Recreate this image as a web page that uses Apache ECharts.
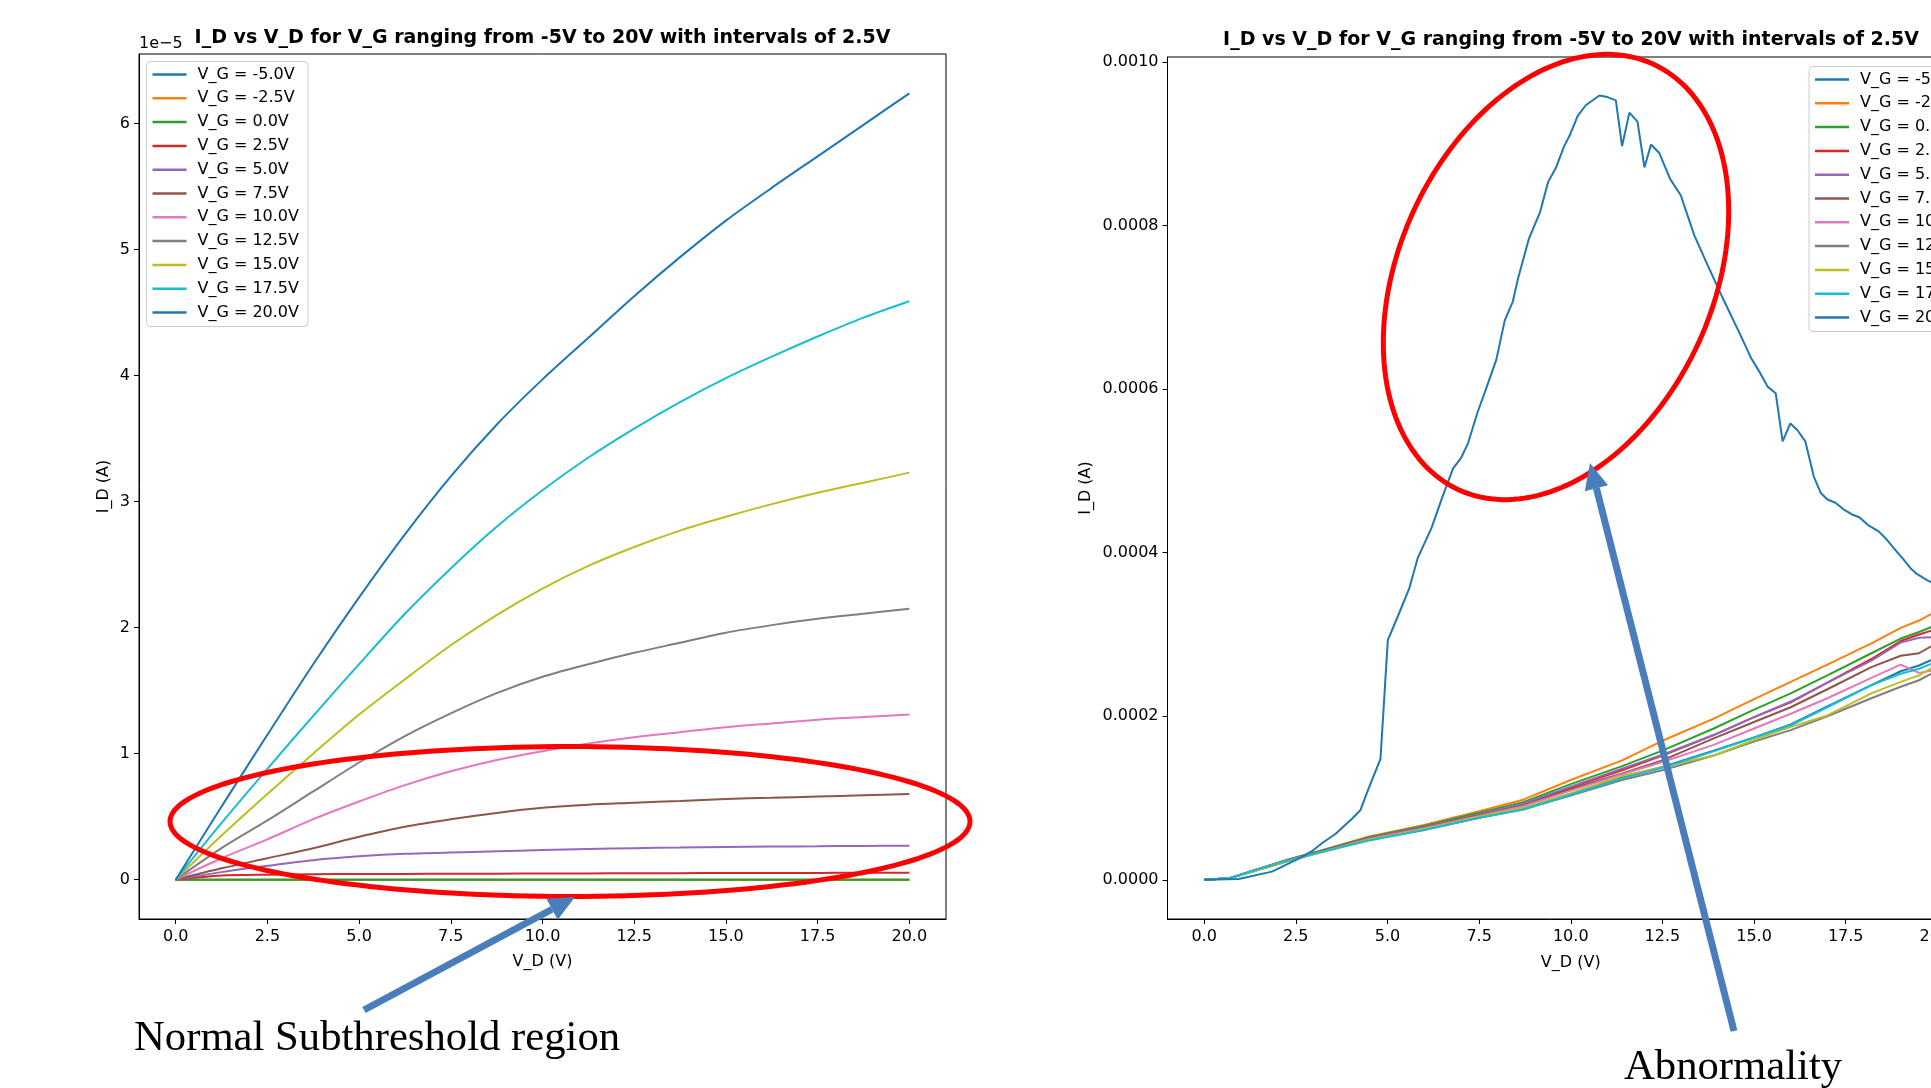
<!DOCTYPE html>
<html lang="en">
<head>
<meta charset="UTF-8">
<title>I_D vs V_D</title>
<script src="https://cdn.jsdelivr.net/npm/echarts@6/dist/echarts.min.js"></script>
<style>
  html, body { margin: 0; padding: 0; background: #fff; }
  #main { width: 1931px; height: 1088px; }
</style>
</head>
<body>
<div id="main"></div>
<script>
  // legend names and matplotlib tab10 cycle
  var gateLabels = ['V_G = -5.0V', 'V_G = -2.5V', 'V_G = 0.0V', 'V_G = 2.5V', 'V_G = 5.0V', 'V_G = 7.5V',
    'V_G = 10.0V', 'V_G = 12.5V', 'V_G = 15.0V', 'V_G = 17.5V', 'V_G = 20.0V'];
  var lineColors = ['#1f77b4', '#ff7f0e', '#2ca02c', '#d62728', '#9467bd', '#8c564b',
    '#e377c2', '#7f7f7f', '#bcbd22', '#17becf', '#1f77b4'];

  var vdTicks = [0, 2.5, 5, 7.5, 10, 12.5, 15, 17.5, 20];
  var leftIdTicks = [0, 1, 2, 3, 4, 5, 6];
  var rightIdTicks = [0, 0.0002, 0.0004, 0.0006, 0.0008, 0.0010];

  // left panel, I_D in units of 1e-5 A, read every 1.25 V
  var leftVD = [0, 1.25, 2.5, 3.75, 5, 6.25, 7.5, 8.75, 10, 11.25, 12.5, 13.75, 15, 16.25, 17.5, 18.75, 20];
  var leftM50 = [0, 0, 0, 0, 0, 0, 0, 0, 0, 0, 0, 0, 0, 0, 0, 0, 0];
  var leftM25 = [0, 0, 0, 0, 0, 0, 0, 0, 0, 0, 0, 0, 0, 0, 0, 0, 0];
  var left00 = [0, 0, 0, 0, 0, 0, 0, 0, 0, 0, 0, 0, 0, 0, 0, 0, 0];
  var left25 = [0, 0.033, 0.04, 0.043, 0.045, 0.046, 0.047, 0.048, 0.049, 0.05, 0.051, 0.052, 0.053, 0.0535, 0.054, 0.0545, 0.055];
  var left50 = [0, 0.06, 0.11, 0.155, 0.185, 0.205, 0.215, 0.225, 0.235, 0.243, 0.25, 0.255, 0.26, 0.263, 0.265, 0.268, 0.27];
  var left75 = [0, 0.09, 0.17, 0.25, 0.34, 0.42, 0.48, 0.53, 0.57, 0.595, 0.61, 0.625, 0.64, 0.65, 0.66, 0.67, 0.68];
  var left100 = [0, 0.17, 0.32, 0.48, 0.62, 0.75, 0.86, 0.95, 1.02, 1.08, 1.13, 1.17, 1.21, 1.24, 1.27, 1.29, 1.31];
  var left125 = [0, 0.25, 0.47, 0.70, 0.93, 1.14, 1.32, 1.48, 1.61, 1.71, 1.80, 1.88, 1.96, 2.02, 2.07, 2.11, 2.15];
  var left150 = [0, 0.35, 0.68, 1.00, 1.31, 1.59, 1.86, 2.10, 2.31, 2.49, 2.64, 2.77, 2.88, 2.98, 3.07, 3.15, 3.23];
  var left175 = [0, 0.45, 0.88, 1.30, 1.71, 2.11, 2.47, 2.80, 3.09, 3.35, 3.58, 3.79, 3.98, 4.15, 4.31, 4.46, 4.59];
  var left200 = [0, 0.58, 1.15, 1.71, 2.24, 2.74, 3.20, 3.61, 3.97, 4.30, 4.63, 4.94, 5.23, 5.49, 5.74, 5.99, 6.24];

  // right panel, I_D in units of 1e-4 A
  var rightVD = [0, 0.7, 1.4, 2.3, 3.2, 4.5, 6, 7.5, 8.7, 10, 11.4, 12.5, 13.9, 15, 16, 17, 18.2, 19, 19.5, 20];
  var rightM50 = [0, 0.02, 0.12, 0.24, 0.35, 0.49, 0.62, 0.76, 0.87, 1.05, 1.25, 1.38, 1.58, 1.74, 1.90, 2.12, 2.38, 2.55, 2.62, 2.72];
  var rightM25 = [0, 0.02, 0.12, 0.25, 0.36, 0.53, 0.67, 0.84, 0.98, 1.22, 1.46, 1.70, 1.97, 2.21, 2.42, 2.63, 2.89, 3.08, 3.17, 3.29];
  var right00 = [0, 0.02, 0.12, 0.25, 0.36, 0.52, 0.66, 0.82, 0.95, 1.17, 1.39, 1.58, 1.85, 2.08, 2.28, 2.50, 2.77, 2.95, 3.03, 3.12];
  var right25 = [0, 0.02, 0.12, 0.24, 0.35, 0.51, 0.64, 0.79, 0.91, 1.13, 1.34, 1.52, 1.77, 1.99, 2.17, 2.41, 2.70, 2.92, 3.00, 3.07];
  var right50 = [0, 0.02, 0.12, 0.24, 0.35, 0.51, 0.65, 0.80, 0.93, 1.14, 1.36, 1.53, 1.77, 1.99, 2.18, 2.41, 2.68, 2.90, 2.96, 2.97];
  var right75 = [0, 0.02, 0.12, 0.24, 0.35, 0.50, 0.64, 0.79, 0.91, 1.11, 1.30, 1.46, 1.73, 1.93, 2.11, 2.33, 2.60, 2.74, 2.77, 2.90];
  var right100 = [0, 0.02, 0.12, 0.24, 0.34, 0.50, 0.63, 0.78, 0.90, 1.09, 1.29, 1.44, 1.65, 1.85, 2.03, 2.22, 2.47, 2.63, 2.53, 2.57];
  var right125 = [0, 0.02, 0.11, 0.23, 0.34, 0.49, 0.61, 0.76, 0.86, 1.03, 1.22, 1.34, 1.52, 1.69, 1.83, 2.00, 2.22, 2.36, 2.44, 2.56];
  var right150 = [0, 0.02, 0.11, 0.23, 0.34, 0.49, 0.62, 0.77, 0.88, 1.06, 1.27, 1.38, 1.52, 1.71, 1.87, 2.01, 2.28, 2.42, 2.50, 2.63];
  var right175 = [0, 0.02, 0.12, 0.24, 0.34, 0.48, 0.61, 0.76, 0.86, 1.04, 1.24, 1.37, 1.57, 1.74, 1.89, 2.11, 2.38, 2.52, 2.58, 2.67];
  // the abnormal curve has its own sampling
  var peakVD = [0, 0.94, 1.85, 2.58, 2.94, 3.22, 3.58, 4.04, 4.26, 4.49, 4.81, 5.01, 5.31, 5.6, 5.83, 6.2, 6.49, 6.79, 7.01, 7.2,
    7.46, 7.68, 7.97, 8.2, 8.42, 8.56, 8.86, 9.16, 9.38, 9.6, 9.82, 9.97, 10.19, 10.41, 10.78, 11.0, 11.23, 11.4, 11.6, 11.82,
    12.01, 12.19, 12.41, 12.71, 13.0, 13.37, 13.74, 14.19, 14.63, 14.93, 15.15, 15.37, 15.59, 15.78, 15.99, 16.18, 16.4, 16.63, 16.82, 17.0,
    17.22, 17.44, 17.66, 17.88, 18.1, 18.4, 18.62, 18.84, 19.07, 19.29, 19.44, 19.73, 20];
  var peakId = [0, 0.01, 0.10, 0.26, 0.35, 0.45, 0.56, 0.75, 0.85, 1.12, 1.48, 2.93, 3.25, 3.57, 3.94, 4.30, 4.67, 5.03, 5.16, 5.34,
    5.72, 5.99, 6.36, 6.84, 7.07, 7.35, 7.84, 8.16, 8.53, 8.71, 8.97, 9.10, 9.34, 9.47, 9.59, 9.57, 9.53, 8.97, 9.38, 9.27,
    8.71, 8.99, 8.89, 8.57, 8.37, 7.88, 7.51, 7.07, 6.66, 6.37, 6.21, 6.03, 5.95, 5.36, 5.58, 5.50, 5.36, 4.93, 4.73, 4.65,
    4.61, 4.53, 4.47, 4.43, 4.34, 4.26, 4.16, 4.04, 3.92, 3.80, 3.74, 3.66, 3.60];

  var leftSets = [leftM50, leftM25, left00, left25, left50, left75, left100, left125, left150, left175, left200];
  var rightSets = [rightM50, rightM25, right00, right25, right50, right75, right100, right125, right150, right175];

  var font = 'DejaVu Sans';
  var annoRed = '#ff0000';
  var annoBlue = '#4a7ebb';

  function pairs(xs, ys, scale) {
    var out = [];
    for (var i = 0; i < xs.length; i++) out.push([xs[i], ys[i] * scale]);
    return out;
  }

  function vdAxis(gi, gap) {
    return {
      type: 'value', gridIndex: gi, min: -1, max: 21,
      name: 'V_D (V)', nameLocation: 'middle', nameGap: gap,
      nameTextStyle: { fontFamily: font, fontSize: 16, color: '#000' },
      axisLine: { show: true, onZero: false, lineStyle: { color: '#000', width: 1 } },
      axisTick: { show: true, length: 5, lineStyle: { color: '#000' }, customValues: vdTicks },
      axisLabel: { customValues: vdTicks, fontFamily: font, fontSize: 16, color: '#000', margin: 10,
        formatter: function (v) { return v.toFixed(1); } },
      splitLine: { show: false }
    };
  }

  function idAxis(gi, min, max, ticks, gap, fmt) {
    return {
      type: 'value', gridIndex: gi, min: min, max: max,
      name: 'I_D (A)', nameLocation: 'middle', nameGap: gap,
      nameTextStyle: { fontFamily: font, fontSize: 16, color: '#000' },
      axisLine: { show: true, onZero: false, lineStyle: { color: '#000', width: 1 } },
      axisTick: { show: true, length: 5, lineStyle: { color: '#000' }, customValues: ticks },
      axisLabel: { customValues: ticks, fontFamily: font, fontSize: 16, color: '#000', margin: 9, formatter: fmt },
      splitLine: { show: false }
    };
  }

  function legendBox(left, top) {
    return {
      orient: 'vertical', left: left, top: top, data: gateLabels,
      icon: 'rect', itemWidth: 34, itemHeight: 2.5, itemGap: 5.8,
      textStyle: { fontFamily: font, fontSize: 16, lineHeight: 18, color: '#000', padding: [0, 0, 0, 6] },
      backgroundColor: 'rgba(255,255,255,0.8)', borderColor: '#cccccc', borderWidth: 1, borderRadius: 4,
      padding: [4, 9, 5, 6], selectedMode: false
    };
  }

  function ellipse(cx, cy, a, b, phiDeg) {
    var phi = phiDeg * Math.PI / 180;
    var ux = Math.sin(phi), uy = -Math.cos(phi), wx = Math.cos(phi), wy = Math.sin(phi);
    var pts = [];
    for (var t = 0; t < 360; t += 2) {
      var r = t * Math.PI / 180;
      pts.push([cx + a * Math.cos(r) * ux + b * Math.sin(r) * wx, cy + a * Math.cos(r) * uy + b * Math.sin(r) * wy]);
    }
    return { type: 'polygon', z: 100, shape: { points: pts }, style: { fill: 'none', stroke: annoRed, lineWidth: 5 } };
  }

  function arrow(x1, y1, x2, y2) {
    var dx = x2 - x1, dy = y2 - y1, len = Math.sqrt(dx * dx + dy * dy);
    var ux = dx / len, uy = dy / len, hl = 26, hw = 12;
    var bx = x2 - ux * hl, by = y2 - uy * hl;
    return [
      { type: 'line', z: 101, shape: { x1: x1, y1: y1, x2: bx, y2: by }, style: { stroke: annoBlue, lineWidth: 7 } },
      { type: 'polygon', z: 101, shape: { points: [[x2, y2], [bx - uy * hw, by + ux * hw], [bx + uy * hw, by - ux * hw]] },
        style: { fill: annoBlue } }
    ];
  }

  function label(text, x, y, f, align) {
    return { type: 'text', z: 102, x: x, y: y,
      style: { text: text, font: f, fill: '#000', align: align, verticalAlign: 'middle',
        textAlign: align, textVerticalAlign: 'middle' } };
  }

  var series = [];
  for (var i = 0; i < gateLabels.length; i++) {
    series.push({
      name: gateLabels[i], type: 'line', xAxisIndex: 0, yAxisIndex: 0,
      data: pairs(leftVD, leftSets[i], 1), smooth: 0.3,
      symbol: 'none', color: lineColors[i], lineStyle: { width: 2, color: lineColors[i] }
    });
  }
  for (var j = 0; j < gateLabels.length; j++) {
    var d = j < rightSets.length ? pairs(rightVD, rightSets[j], 1e-4) : pairs(peakVD, peakId, 1e-4);
    series.push({
      name: gateLabels[j], type: 'line', xAxisIndex: 1, yAxisIndex: 1,
      data: d, symbol: 'none', color: lineColors[j], lineStyle: { width: 2, color: lineColors[j] }
    });
  }

  var graphics = [
    label('I_D vs V_D for V_G ranging from -5V to 20V with intervals of 2.5V', 542.5, 38, 'bold 19px "DejaVu Sans"', 'center'),
    label('I_D vs V_D for V_G ranging from -5V to 20V with intervals of 2.5V', 1571, 40.5, 'bold 19px "DejaVu Sans"', 'center'),
    label('1e\u22125', 139, 44, '16px "DejaVu Sans"', 'left'),
    ellipse(570, 821.5, 400, 75, 90),
    ellipse(1556, 277, 234, 157, 24.5),
    label('Normal Subthreshold region', 134, 1038.5, '42.7px "Liberation Serif"', 'left'),
    label('Abnormality', 1624, 1067.5, '42.7px "Liberation Serif"', 'left')
  ].concat(arrow(364, 1010, 575, 897)).concat(arrow(1734, 1031, 1590, 463));

  var chart = echarts.init(document.getElementById('main'), null, { renderer: 'canvas' });
  chart.setOption({
    animation: false,
    backgroundColor: '#fff',
    grid: [
      { left: 139, top: 54, width: 807, height: 865, show: true, borderColor: '#000', borderWidth: 1,
        outerBoundsMode: 'none' },
      { left: 1167.5, top: 57, width: 806.5, height: 862, show: true, borderColor: '#000', borderWidth: 1,
        outerBoundsMode: 'none' }
    ],
    xAxis: [vdAxis(0, 35), vdAxis(1, 36)],
    yAxis: [
      idAxis(0, -0.312, 6.552, leftIdTicks, 27, function (v) { return String(Math.round(v)); }),
      idAxis(1, -0.0000479, 0.001006, rightIdTicks, 74, function (v) { return v.toFixed(4); })
    ],
    legend: [legendBox(146.5, 61.5), legendBox(1809, 66.5)],
    series: series,
    graphic: graphics
  });
</script>
</body>
</html>
